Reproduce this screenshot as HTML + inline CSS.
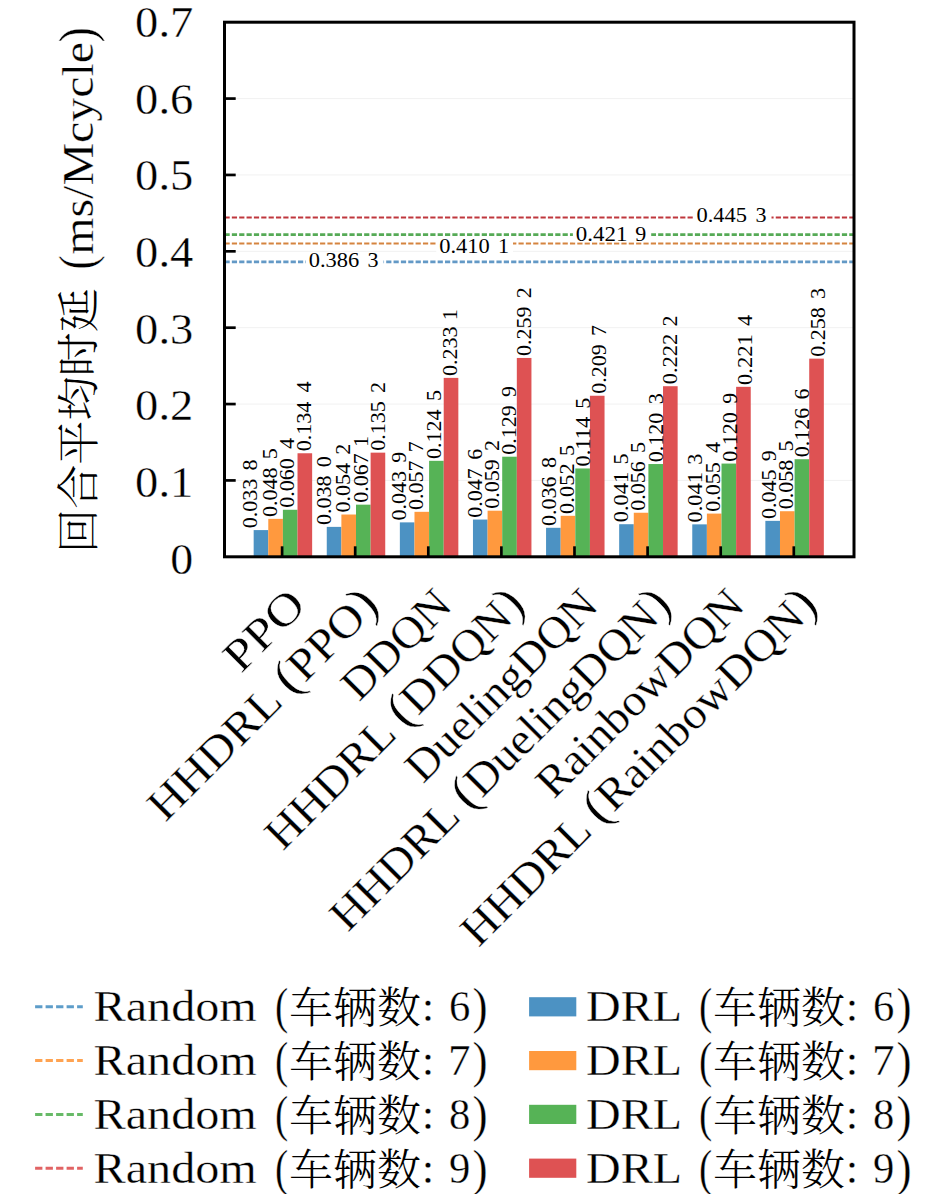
<!DOCTYPE html><html><head><meta charset="utf-8"><style>
html,body{margin:0;padding:0;background:#fff;overflow:hidden;}svg{display:block;}
text{font-family:"Liberation Serif","Noto Serif CJK SC",serif;fill:#000;stroke:#fff;stroke-width:0.35px;}
.cjk{font-family:"Noto Serif CJK SC",serif;font-weight:300;stroke:none;}
.s{stroke:none;}
</style></head><body>
<svg width="945" height="1194" viewBox="0 0 945 1194">
<rect width="945" height="1194" fill="#fff"/>
<line x1="224.5" y1="480.43" x2="854.0" y2="480.43" stroke="#f1f1f1" stroke-width="1"/>
<line x1="224.5" y1="404.06" x2="854.0" y2="404.06" stroke="#f1f1f1" stroke-width="1"/>
<line x1="224.5" y1="327.69" x2="854.0" y2="327.69" stroke="#f1f1f1" stroke-width="1"/>
<line x1="224.5" y1="251.32" x2="854.0" y2="251.32" stroke="#f1f1f1" stroke-width="1"/>
<line x1="224.5" y1="174.95" x2="854.0" y2="174.95" stroke="#f1f1f1" stroke-width="1"/>
<line x1="224.5" y1="98.58" x2="854.0" y2="98.58" stroke="#f1f1f1" stroke-width="1"/>
<rect x="253.66" y="530.09" width="14.62" height="26.71" fill="#4c92c3"/>
<rect x="268.28" y="518.86" width="14.62" height="37.94" fill="#ff993e"/>
<rect x="282.90" y="509.77" width="14.62" height="47.03" fill="#56b356"/>
<rect x="297.52" y="453.26" width="14.62" height="103.54" fill="#de5253"/>
<rect x="326.76" y="526.88" width="14.62" height="29.92" fill="#4c92c3"/>
<rect x="341.38" y="514.51" width="14.62" height="42.29" fill="#ff993e"/>
<rect x="356.00" y="504.66" width="14.62" height="52.14" fill="#56b356"/>
<rect x="370.62" y="452.65" width="14.62" height="104.15" fill="#de5253"/>
<rect x="399.86" y="522.37" width="14.62" height="34.43" fill="#4c92c3"/>
<rect x="414.48" y="511.83" width="14.62" height="44.97" fill="#ff993e"/>
<rect x="429.10" y="460.82" width="14.62" height="95.98" fill="#56b356"/>
<rect x="443.72" y="377.88" width="14.62" height="178.92" fill="#de5253"/>
<rect x="472.96" y="519.55" width="14.62" height="37.25" fill="#4c92c3"/>
<rect x="487.58" y="510.69" width="14.62" height="46.11" fill="#ff993e"/>
<rect x="502.20" y="456.70" width="14.62" height="100.10" fill="#56b356"/>
<rect x="516.82" y="357.95" width="14.62" height="198.85" fill="#de5253"/>
<rect x="546.06" y="527.80" width="14.62" height="29.00" fill="#4c92c3"/>
<rect x="560.68" y="515.81" width="14.62" height="40.99" fill="#ff993e"/>
<rect x="575.30" y="468.46" width="14.62" height="88.34" fill="#56b356"/>
<rect x="589.92" y="395.75" width="14.62" height="161.05" fill="#de5253"/>
<rect x="619.16" y="524.21" width="14.62" height="32.59" fill="#4c92c3"/>
<rect x="633.78" y="512.75" width="14.62" height="44.05" fill="#ff993e"/>
<rect x="648.40" y="464.03" width="14.62" height="92.77" fill="#56b356"/>
<rect x="663.02" y="386.21" width="14.62" height="170.59" fill="#de5253"/>
<rect x="692.26" y="524.36" width="14.62" height="32.44" fill="#4c92c3"/>
<rect x="706.88" y="513.59" width="14.62" height="43.21" fill="#ff993e"/>
<rect x="721.50" y="463.57" width="14.62" height="93.23" fill="#56b356"/>
<rect x="736.12" y="386.82" width="14.62" height="169.98" fill="#de5253"/>
<rect x="765.36" y="520.85" width="14.62" height="35.95" fill="#4c92c3"/>
<rect x="779.98" y="511.22" width="14.62" height="45.58" fill="#ff993e"/>
<rect x="794.60" y="459.22" width="14.62" height="97.58" fill="#56b356"/>
<rect x="809.22" y="358.64" width="14.62" height="198.16" fill="#de5253"/>
<line x1="224.5" y1="261.78" x2="854.0" y2="261.78" stroke="#6399c6" stroke-width="2.8" stroke-dasharray="5.2 2.15"/>
<line x1="224.5" y1="243.61" x2="854.0" y2="243.61" stroke="#d5843f" stroke-width="2.0" stroke-dasharray="5.2 2.15"/>
<line x1="224.5" y1="234.59" x2="854.0" y2="234.59" stroke="#56aa56" stroke-width="2.8" stroke-dasharray="5.2 2.15"/>
<line x1="224.5" y1="217.52" x2="854.0" y2="217.52" stroke="#bf373d" stroke-width="2.2" stroke-dasharray="5.2 2.15"/>
<rect x="305.8" y="252.2" width="77.7" height="16.5" fill="#fff"/>
<text x="308.78" y="267.45" font-size="22" class="s" textLength="50.53" lengthAdjust="spacingAndGlyphs">0.386</text>
<text x="367.50" y="267.45" font-size="22" class="s" textLength="11.00" lengthAdjust="spacingAndGlyphs">3</text>
<rect x="436.3" y="237.2" width="76.7" height="17.4" fill="#fff"/>
<text x="439.28" y="252.90" font-size="22" class="s" textLength="50.53" lengthAdjust="spacingAndGlyphs">0.410</text>
<text x="498.00" y="252.90" font-size="22" class="s" textLength="11.00" lengthAdjust="spacingAndGlyphs">1</text>
<rect x="572.9" y="225.1" width="78.3" height="17.1" fill="#fff"/>
<text x="575.86" y="240.65" font-size="22" class="s" textLength="51.61" lengthAdjust="spacingAndGlyphs">0.421</text>
<text x="635.20" y="240.65" font-size="22" class="s" textLength="11.00" lengthAdjust="spacingAndGlyphs">9</text>
<rect x="693.5" y="206.2" width="78.0" height="17.6" fill="#fff"/>
<text x="696.48" y="222.00" font-size="22" class="s" textLength="50.53" lengthAdjust="spacingAndGlyphs">0.445</text>
<text x="755.50" y="222.00" font-size="22" class="s" textLength="11.00" lengthAdjust="spacingAndGlyphs">3</text>
<text transform="translate(257.20 528.19) rotate(-90)" font-size="22" class="s" textLength="49.50" lengthAdjust="spacingAndGlyphs">0.033</text>
<text transform="translate(257.20 470.39) rotate(-90)" font-size="22" class="s" textLength="11.00" lengthAdjust="spacingAndGlyphs">8</text>
<text transform="translate(277.30 516.96) rotate(-90)" font-size="22" class="s" textLength="49.50" lengthAdjust="spacingAndGlyphs">0.048</text>
<text transform="translate(277.30 459.16) rotate(-90)" font-size="22" class="s" textLength="11.00" lengthAdjust="spacingAndGlyphs">5</text>
<text transform="translate(293.80 507.87) rotate(-90)" font-size="22" class="s" textLength="49.50" lengthAdjust="spacingAndGlyphs">0.060</text>
<text transform="translate(293.80 449.07) rotate(-90)" font-size="22" class="s" textLength="11.00" lengthAdjust="spacingAndGlyphs">4</text>
<text transform="translate(310.90 451.36) rotate(-90)" font-size="22" class="s" textLength="49.50" lengthAdjust="spacingAndGlyphs">0.134</text>
<text transform="translate(310.90 392.56) rotate(-90)" font-size="22" class="s" textLength="11.00" lengthAdjust="spacingAndGlyphs">4</text>
<text transform="translate(330.70 524.98) rotate(-90)" font-size="22" class="s" textLength="49.50" lengthAdjust="spacingAndGlyphs">0.038</text>
<text transform="translate(330.70 467.18) rotate(-90)" font-size="22" class="s" textLength="11.00" lengthAdjust="spacingAndGlyphs">0</text>
<text transform="translate(349.90 512.61) rotate(-90)" font-size="22" class="s" textLength="49.50" lengthAdjust="spacingAndGlyphs">0.054</text>
<text transform="translate(349.90 454.81) rotate(-90)" font-size="22" class="s" textLength="11.00" lengthAdjust="spacingAndGlyphs">2</text>
<text transform="translate(368.00 502.76) rotate(-90)" font-size="22" class="s" textLength="49.50" lengthAdjust="spacingAndGlyphs">0.067</text>
<text transform="translate(368.00 446.96) rotate(-90)" font-size="22" class="s" textLength="11.00" lengthAdjust="spacingAndGlyphs">1</text>
<text transform="translate(385.00 450.75) rotate(-90)" font-size="22" class="s" textLength="49.50" lengthAdjust="spacingAndGlyphs">0.135</text>
<text transform="translate(385.00 392.95) rotate(-90)" font-size="22" class="s" textLength="11.00" lengthAdjust="spacingAndGlyphs">2</text>
<text transform="translate(406.00 520.47) rotate(-90)" font-size="22" class="s" textLength="49.50" lengthAdjust="spacingAndGlyphs">0.043</text>
<text transform="translate(406.00 462.67) rotate(-90)" font-size="22" class="s" textLength="11.00" lengthAdjust="spacingAndGlyphs">9</text>
<text transform="translate(423.30 509.93) rotate(-90)" font-size="22" class="s" textLength="49.50" lengthAdjust="spacingAndGlyphs">0.057</text>
<text transform="translate(423.30 452.13) rotate(-90)" font-size="22" class="s" textLength="11.00" lengthAdjust="spacingAndGlyphs">7</text>
<text transform="translate(440.60 458.92) rotate(-90)" font-size="22" class="s" textLength="49.50" lengthAdjust="spacingAndGlyphs">0.124</text>
<text transform="translate(440.60 401.12) rotate(-90)" font-size="22" class="s" textLength="11.00" lengthAdjust="spacingAndGlyphs">5</text>
<text transform="translate(457.30 375.98) rotate(-90)" font-size="22" class="s" textLength="49.50" lengthAdjust="spacingAndGlyphs">0.233</text>
<text transform="translate(457.30 320.18) rotate(-90)" font-size="22" class="s" textLength="11.00" lengthAdjust="spacingAndGlyphs">1</text>
<text transform="translate(481.60 517.65) rotate(-90)" font-size="22" class="s" textLength="49.50" lengthAdjust="spacingAndGlyphs">0.047</text>
<text transform="translate(481.60 459.85) rotate(-90)" font-size="22" class="s" textLength="11.00" lengthAdjust="spacingAndGlyphs">6</text>
<text transform="translate(499.30 508.79) rotate(-90)" font-size="22" class="s" textLength="49.50" lengthAdjust="spacingAndGlyphs">0.059</text>
<text transform="translate(499.30 450.99) rotate(-90)" font-size="22" class="s" textLength="11.00" lengthAdjust="spacingAndGlyphs">2</text>
<text transform="translate(516.20 454.80) rotate(-90)" font-size="22" class="s" textLength="49.50" lengthAdjust="spacingAndGlyphs">0.129</text>
<text transform="translate(516.20 397.00) rotate(-90)" font-size="22" class="s" textLength="11.00" lengthAdjust="spacingAndGlyphs">9</text>
<text transform="translate(531.00 356.05) rotate(-90)" font-size="22" class="s" textLength="49.50" lengthAdjust="spacingAndGlyphs">0.259</text>
<text transform="translate(531.00 298.25) rotate(-90)" font-size="22" class="s" textLength="11.00" lengthAdjust="spacingAndGlyphs">2</text>
<text transform="translate(556.00 525.90) rotate(-90)" font-size="22" class="s" textLength="49.50" lengthAdjust="spacingAndGlyphs">0.036</text>
<text transform="translate(556.00 468.10) rotate(-90)" font-size="22" class="s" textLength="11.00" lengthAdjust="spacingAndGlyphs">8</text>
<text transform="translate(574.10 513.93) rotate(-90)" font-size="22" class="s" textLength="50.55" lengthAdjust="spacingAndGlyphs">0.052</text>
<text transform="translate(574.10 456.11) rotate(-90)" font-size="22" class="s" textLength="11.00" lengthAdjust="spacingAndGlyphs">5</text>
<text transform="translate(590.20 466.58) rotate(-90)" font-size="22" class="s" textLength="49.72" lengthAdjust="spacingAndGlyphs">0.114</text>
<text transform="translate(590.20 408.76) rotate(-90)" font-size="22" class="s" textLength="11.00" lengthAdjust="spacingAndGlyphs">5</text>
<text transform="translate(605.80 393.85) rotate(-90)" font-size="22" class="s" textLength="49.50" lengthAdjust="spacingAndGlyphs">0.209</text>
<text transform="translate(605.80 336.05) rotate(-90)" font-size="22" class="s" textLength="11.00" lengthAdjust="spacingAndGlyphs">7</text>
<text transform="translate(628.00 522.33) rotate(-90)" font-size="22" class="s" textLength="50.55" lengthAdjust="spacingAndGlyphs">0.041</text>
<text transform="translate(628.00 464.51) rotate(-90)" font-size="22" class="s" textLength="11.00" lengthAdjust="spacingAndGlyphs">5</text>
<text transform="translate(645.40 510.85) rotate(-90)" font-size="22" class="s" textLength="49.50" lengthAdjust="spacingAndGlyphs">0.056</text>
<text transform="translate(645.40 453.05) rotate(-90)" font-size="22" class="s" textLength="11.00" lengthAdjust="spacingAndGlyphs">5</text>
<text transform="translate(662.70 462.13) rotate(-90)" font-size="22" class="s" textLength="49.50" lengthAdjust="spacingAndGlyphs">0.120</text>
<text transform="translate(662.70 404.33) rotate(-90)" font-size="22" class="s" textLength="11.00" lengthAdjust="spacingAndGlyphs">3</text>
<text transform="translate(677.40 384.33) rotate(-90)" font-size="22" class="s" textLength="50.55" lengthAdjust="spacingAndGlyphs">0.222</text>
<text transform="translate(677.40 326.51) rotate(-90)" font-size="22" class="s" textLength="11.00" lengthAdjust="spacingAndGlyphs">2</text>
<text transform="translate(702.00 522.48) rotate(-90)" font-size="22" class="s" textLength="50.55" lengthAdjust="spacingAndGlyphs">0.041</text>
<text transform="translate(702.00 464.66) rotate(-90)" font-size="22" class="s" textLength="11.00" lengthAdjust="spacingAndGlyphs">3</text>
<text transform="translate(720.20 511.69) rotate(-90)" font-size="22" class="s" textLength="49.50" lengthAdjust="spacingAndGlyphs">0.055</text>
<text transform="translate(720.20 452.89) rotate(-90)" font-size="22" class="s" textLength="11.00" lengthAdjust="spacingAndGlyphs">4</text>
<text transform="translate(736.90 461.67) rotate(-90)" font-size="22" class="s" textLength="49.50" lengthAdjust="spacingAndGlyphs">0.120</text>
<text transform="translate(736.90 403.87) rotate(-90)" font-size="22" class="s" textLength="11.00" lengthAdjust="spacingAndGlyphs">9</text>
<text transform="translate(752.30 384.94) rotate(-90)" font-size="22" class="s" textLength="50.55" lengthAdjust="spacingAndGlyphs">0.221</text>
<text transform="translate(752.30 326.12) rotate(-90)" font-size="22" class="s" textLength="11.00" lengthAdjust="spacingAndGlyphs">4</text>
<text transform="translate(775.60 518.95) rotate(-90)" font-size="22" class="s" textLength="49.50" lengthAdjust="spacingAndGlyphs">0.045</text>
<text transform="translate(775.60 461.15) rotate(-90)" font-size="22" class="s" textLength="11.00" lengthAdjust="spacingAndGlyphs">9</text>
<text transform="translate(793.40 509.32) rotate(-90)" font-size="22" class="s" textLength="49.50" lengthAdjust="spacingAndGlyphs">0.058</text>
<text transform="translate(793.40 451.52) rotate(-90)" font-size="22" class="s" textLength="11.00" lengthAdjust="spacingAndGlyphs">5</text>
<text transform="translate(809.30 457.32) rotate(-90)" font-size="22" class="s" textLength="49.50" lengthAdjust="spacingAndGlyphs">0.126</text>
<text transform="translate(809.30 399.52) rotate(-90)" font-size="22" class="s" textLength="11.00" lengthAdjust="spacingAndGlyphs">6</text>
<text transform="translate(824.90 356.74) rotate(-90)" font-size="22" class="s" textLength="49.50" lengthAdjust="spacingAndGlyphs">0.258</text>
<text transform="translate(824.90 298.94) rotate(-90)" font-size="22" class="s" textLength="11.00" lengthAdjust="spacingAndGlyphs">3</text>
<rect x="224.5" y="22.2" width="629.5" height="534.6" fill="none" stroke="#000" stroke-width="3"/>
<line x1="224.5" y1="480.43" x2="235.7" y2="480.43" stroke="#000" stroke-width="2.7"/>
<line x1="224.5" y1="404.06" x2="235.7" y2="404.06" stroke="#000" stroke-width="2.7"/>
<line x1="224.5" y1="327.69" x2="235.7" y2="327.69" stroke="#000" stroke-width="2.7"/>
<line x1="224.5" y1="251.32" x2="235.7" y2="251.32" stroke="#000" stroke-width="2.7"/>
<line x1="224.5" y1="174.95" x2="235.7" y2="174.95" stroke="#000" stroke-width="2.7"/>
<line x1="224.5" y1="98.58" x2="235.7" y2="98.58" stroke="#000" stroke-width="2.7"/>
<line x1="282.10" y1="556.8" x2="282.10" y2="546.3" stroke="#000" stroke-width="2.7"/>
<line x1="355.20" y1="556.8" x2="355.20" y2="546.3" stroke="#000" stroke-width="2.7"/>
<line x1="428.30" y1="556.8" x2="428.30" y2="546.3" stroke="#000" stroke-width="2.7"/>
<line x1="501.40" y1="556.8" x2="501.40" y2="546.3" stroke="#000" stroke-width="2.7"/>
<line x1="574.50" y1="556.8" x2="574.50" y2="546.3" stroke="#000" stroke-width="2.7"/>
<line x1="647.60" y1="556.8" x2="647.60" y2="546.3" stroke="#000" stroke-width="2.7"/>
<line x1="720.70" y1="556.8" x2="720.70" y2="546.3" stroke="#000" stroke-width="2.7"/>
<line x1="793.80" y1="556.8" x2="793.80" y2="546.3" stroke="#000" stroke-width="2.7"/>
<text x="170.26" y="573.75" font-size="45" textLength="22.97" lengthAdjust="spacingAndGlyphs">0</text>
<text x="135.13" y="497.07" font-size="45" textLength="58.16" lengthAdjust="spacingAndGlyphs">0.1</text>
<text x="135.13" y="420.38" font-size="45" textLength="58.16" lengthAdjust="spacingAndGlyphs">0.2</text>
<text x="135.13" y="343.70" font-size="45" textLength="58.16" lengthAdjust="spacingAndGlyphs">0.3</text>
<text x="135.13" y="267.01" font-size="45" textLength="58.16" lengthAdjust="spacingAndGlyphs">0.4</text>
<text x="135.13" y="190.33" font-size="45" textLength="58.16" lengthAdjust="spacingAndGlyphs">0.5</text>
<text x="135.13" y="113.64" font-size="45" textLength="58.16" lengthAdjust="spacingAndGlyphs">0.6</text>
<text x="135.13" y="36.96" font-size="45" textLength="58.16" lengthAdjust="spacingAndGlyphs">0.7</text>
<text transform="translate(93.90 552.93) rotate(-90)" font-size="43" class="cjk" textLength="264.68" lengthAdjust="spacingAndGlyphs">回合平均时延</text>
<text transform="translate(94.00 269.51) rotate(-90)" font-size="50" textLength="14.22" lengthAdjust="spacingAndGlyphs">(</text>
<text transform="translate(92.60 254.76) rotate(-90)" font-size="45" textLength="212.74" lengthAdjust="spacingAndGlyphs">ms/Mcycle</text>
<text transform="translate(94.00 42.55) rotate(-90)" font-size="50" textLength="15.41" lengthAdjust="spacingAndGlyphs">)</text>
<text transform="translate(307.97 607.20) rotate(-45)" font-size="45" text-anchor="end" textLength="94.81" lengthAdjust="spacingAndGlyphs">PPO</text>
<text transform="translate(381.07 607.20) rotate(-45)" font-size="45" text-anchor="end" textLength="305.13" lengthAdjust="spacingAndGlyphs">HHDRL <tspan font-size="50">(</tspan>PPO<tspan font-size="50">)</tspan></text>
<text transform="translate(454.17 607.20) rotate(-45)" font-size="45" text-anchor="end" textLength="134.65" lengthAdjust="spacingAndGlyphs">DDQN</text>
<text transform="translate(527.27 607.20) rotate(-45)" font-size="45" text-anchor="end" textLength="345.68" lengthAdjust="spacingAndGlyphs">HHDRL <tspan font-size="50">(</tspan>DDQN<tspan font-size="50">)</tspan></text>
<text transform="translate(600.37 607.20) rotate(-45)" font-size="45" text-anchor="end" textLength="250.84" lengthAdjust="spacingAndGlyphs">DuelingDQN</text>
<text transform="translate(673.47 607.20) rotate(-45)" font-size="45" text-anchor="end" textLength="460.73" lengthAdjust="spacingAndGlyphs">HHDRL <tspan font-size="50">(</tspan>DuelingDQN<tspan font-size="50">)</tspan></text>
<text transform="translate(746.57 607.20) rotate(-45)" font-size="45" text-anchor="end" textLength="272.82" lengthAdjust="spacingAndGlyphs">RainbowDQN</text>
<text transform="translate(819.67 607.20) rotate(-45)" font-size="45" text-anchor="end" textLength="482.43" lengthAdjust="spacingAndGlyphs">HHDRL <tspan font-size="50">(</tspan>RainbowDQN<tspan font-size="50">)</tspan></text>
<line x1="35.1" y1="1006.8" x2="82.8" y2="1006.8" stroke="#1f77b4" stroke-opacity="0.72" stroke-width="3" stroke-dasharray="7.3 3.2"/>
<rect x="529.1" y="997.2" width="47.2" height="19.2" fill="#4c92c3"/>
<text x="93.53" y="1021.10" font-size="45" textLength="163.31" lengthAdjust="spacingAndGlyphs">Random</text>
<text x="275.12" y="1023.20" font-size="50" textLength="13.20" lengthAdjust="spacingAndGlyphs">(</text>
<text x="289.05" y="1023.20" font-size="43" class="cjk" textLength="131.97" lengthAdjust="spacingAndGlyphs">车辆数</text>
<text x="421.70" y="1021.10" font-size="45" textLength="12.52" lengthAdjust="spacingAndGlyphs">:</text>
<text x="449.11" y="1021.10" font-size="45" textLength="21.32" lengthAdjust="spacingAndGlyphs">6</text>
<text x="472.48" y="1023.20" font-size="50" textLength="15.13" lengthAdjust="spacingAndGlyphs">)</text>
<text x="586.13" y="1021.10" font-size="45" textLength="96.07" lengthAdjust="spacingAndGlyphs">DRL</text>
<text x="699.12" y="1023.20" font-size="50" textLength="13.20" lengthAdjust="spacingAndGlyphs">(</text>
<text x="713.05" y="1023.20" font-size="43" class="cjk" textLength="131.97" lengthAdjust="spacingAndGlyphs">车辆数</text>
<text x="845.70" y="1021.10" font-size="45" textLength="12.52" lengthAdjust="spacingAndGlyphs">:</text>
<text x="873.11" y="1021.10" font-size="45" textLength="21.32" lengthAdjust="spacingAndGlyphs">6</text>
<text x="896.48" y="1023.20" font-size="50" textLength="15.13" lengthAdjust="spacingAndGlyphs">)</text>
<line x1="35.1" y1="1060.6" x2="82.8" y2="1060.6" stroke="#ff7f0e" stroke-opacity="0.72" stroke-width="3" stroke-dasharray="7.3 3.2"/>
<rect x="529.1" y="1051.0" width="47.2" height="19.2" fill="#ff993e"/>
<text x="93.53" y="1074.90" font-size="45" textLength="163.31" lengthAdjust="spacingAndGlyphs">Random</text>
<text x="275.12" y="1077.00" font-size="50" textLength="13.20" lengthAdjust="spacingAndGlyphs">(</text>
<text x="289.05" y="1077.00" font-size="43" class="cjk" textLength="131.97" lengthAdjust="spacingAndGlyphs">车辆数</text>
<text x="421.70" y="1074.90" font-size="45" textLength="12.52" lengthAdjust="spacingAndGlyphs">:</text>
<text x="448.00" y="1074.90" font-size="45" textLength="22.50" lengthAdjust="spacingAndGlyphs">7</text>
<text x="472.48" y="1077.00" font-size="50" textLength="15.13" lengthAdjust="spacingAndGlyphs">)</text>
<text x="586.13" y="1074.90" font-size="45" textLength="96.07" lengthAdjust="spacingAndGlyphs">DRL</text>
<text x="699.12" y="1077.00" font-size="50" textLength="13.20" lengthAdjust="spacingAndGlyphs">(</text>
<text x="713.05" y="1077.00" font-size="43" class="cjk" textLength="131.97" lengthAdjust="spacingAndGlyphs">车辆数</text>
<text x="845.70" y="1074.90" font-size="45" textLength="12.52" lengthAdjust="spacingAndGlyphs">:</text>
<text x="872.00" y="1074.90" font-size="45" textLength="22.50" lengthAdjust="spacingAndGlyphs">7</text>
<text x="896.48" y="1077.00" font-size="50" textLength="15.13" lengthAdjust="spacingAndGlyphs">)</text>
<line x1="35.1" y1="1114.4" x2="82.8" y2="1114.4" stroke="#2ca02c" stroke-opacity="0.72" stroke-width="3" stroke-dasharray="7.3 3.2"/>
<rect x="529.1" y="1104.8" width="47.2" height="19.2" fill="#56b356"/>
<text x="93.53" y="1128.70" font-size="45" textLength="163.31" lengthAdjust="spacingAndGlyphs">Random</text>
<text x="275.12" y="1130.80" font-size="50" textLength="13.20" lengthAdjust="spacingAndGlyphs">(</text>
<text x="289.05" y="1130.80" font-size="43" class="cjk" textLength="131.97" lengthAdjust="spacingAndGlyphs">车辆数</text>
<text x="421.70" y="1128.70" font-size="45" textLength="12.52" lengthAdjust="spacingAndGlyphs">:</text>
<text x="449.11" y="1128.70" font-size="45" textLength="21.32" lengthAdjust="spacingAndGlyphs">8</text>
<text x="472.48" y="1130.80" font-size="50" textLength="15.13" lengthAdjust="spacingAndGlyphs">)</text>
<text x="586.13" y="1128.70" font-size="45" textLength="96.07" lengthAdjust="spacingAndGlyphs">DRL</text>
<text x="699.12" y="1130.80" font-size="50" textLength="13.20" lengthAdjust="spacingAndGlyphs">(</text>
<text x="713.05" y="1130.80" font-size="43" class="cjk" textLength="131.97" lengthAdjust="spacingAndGlyphs">车辆数</text>
<text x="845.70" y="1128.70" font-size="45" textLength="12.52" lengthAdjust="spacingAndGlyphs">:</text>
<text x="873.11" y="1128.70" font-size="45" textLength="21.32" lengthAdjust="spacingAndGlyphs">8</text>
<text x="896.48" y="1130.80" font-size="50" textLength="15.13" lengthAdjust="spacingAndGlyphs">)</text>
<line x1="35.1" y1="1168.2" x2="82.8" y2="1168.2" stroke="#d62728" stroke-opacity="0.72" stroke-width="3" stroke-dasharray="7.3 3.2"/>
<rect x="529.1" y="1158.6" width="47.2" height="19.2" fill="#de5253"/>
<text x="93.53" y="1182.50" font-size="45" textLength="163.31" lengthAdjust="spacingAndGlyphs">Random</text>
<text x="275.12" y="1184.60" font-size="50" textLength="13.20" lengthAdjust="spacingAndGlyphs">(</text>
<text x="289.05" y="1184.60" font-size="43" class="cjk" textLength="131.97" lengthAdjust="spacingAndGlyphs">车辆数</text>
<text x="421.70" y="1182.50" font-size="45" textLength="12.52" lengthAdjust="spacingAndGlyphs">:</text>
<text x="449.11" y="1182.50" font-size="45" textLength="21.32" lengthAdjust="spacingAndGlyphs">9</text>
<text x="472.48" y="1184.60" font-size="50" textLength="15.13" lengthAdjust="spacingAndGlyphs">)</text>
<text x="586.13" y="1182.50" font-size="45" textLength="96.07" lengthAdjust="spacingAndGlyphs">DRL</text>
<text x="699.12" y="1184.60" font-size="50" textLength="13.20" lengthAdjust="spacingAndGlyphs">(</text>
<text x="713.05" y="1184.60" font-size="43" class="cjk" textLength="131.97" lengthAdjust="spacingAndGlyphs">车辆数</text>
<text x="845.70" y="1182.50" font-size="45" textLength="12.52" lengthAdjust="spacingAndGlyphs">:</text>
<text x="873.11" y="1182.50" font-size="45" textLength="21.32" lengthAdjust="spacingAndGlyphs">9</text>
<text x="896.48" y="1184.60" font-size="50" textLength="15.13" lengthAdjust="spacingAndGlyphs">)</text>
</svg></body></html>
